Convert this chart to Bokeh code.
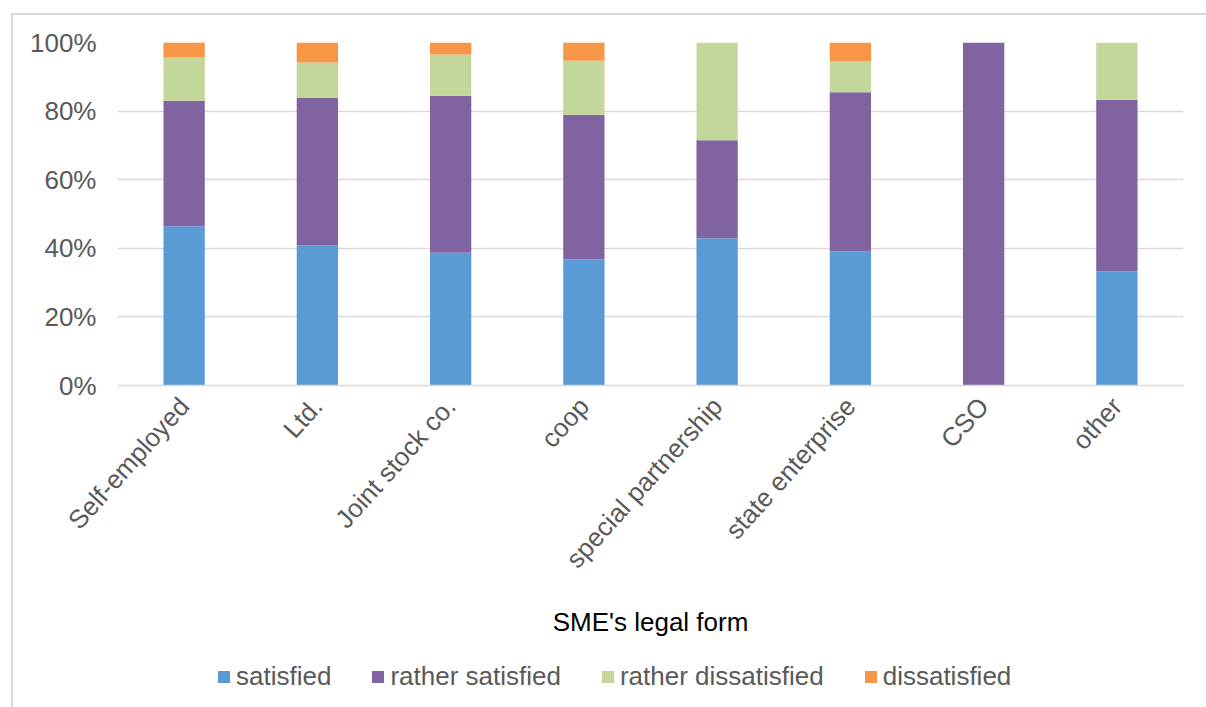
from bokeh.plotting import figure
from bokeh.layouts import column
from bokeh.models import (FactorRange, NumeralTickFormatter, Legend, LegendItem,
                          ColumnDataSource, FixedTicker, InlineStyleSheet)
from bokeh.embed import file_html
from bokeh.resources import INLINE

categories = ["Self-employed", "Ltd.", "Joint stock co.", "coop", "special partnership",
              "state enterprise", "CSO", "other"]
satisfied = [0.464, 0.408, 0.387, 0.368, 0.429, 0.391, 0.0, 0.333]
rather_satisfied = [0.366, 0.430, 0.458, 0.421, 0.286, 0.464, 1.0, 0.500]
rather_dissatisfied = [0.126, 0.104, 0.120, 0.158, 0.285, 0.091, 0.0, 0.167]
dissatisfied = [0.044, 0.058, 0.035, 0.053, 0.0, 0.054, 0.0, 0.0]
series_names = ["satisfied", "rather satisfied", "rather dissatisfied", "dissatisfied"]
colors = ["#5B9BD5", "#8064A2", "#C4D79B", "#F79646"]
y_ticks = [0, 0.2, 0.4, 0.6, 0.8, 1.0]

source = ColumnDataSource(dict(cat=categories, s1=satisfied, s2=rather_satisfied,
                               s3=rather_dissatisfied, s4=dissatisfied))

FONT = "Liberation Sans"
FS = "26px"

# ---- main chart ----
p = figure(x_range=FactorRange(*categories, range_padding=0), y_range=(0, 1),
           width=1206, height=650, output_backend="svg", toolbar_location=None,
           min_border_left=117, min_border_right=23, min_border_top=42, min_border_bottom=265)
p.outline_line_color = None

p.vbar_stack(["s1", "s2", "s3", "s4"], x="cat", width=0.31, color=colors,
             source=source, line_color=None)

p.yaxis.ticker = FixedTicker(ticks=y_ticks)
p.yaxis.formatter = NumeralTickFormatter(format="0%")
p.yaxis.axis_line_color = None
p.yaxis.major_tick_line_color = None
p.yaxis.minor_tick_line_color = None
p.yaxis.major_label_standoff = 15
p.yaxis.major_label_text_font = FONT
p.yaxis.major_label_text_font_size = FS
p.yaxis.major_label_text_color = "#595959"

p.xaxis.axis_line_color = "#D9D9D9"
p.xaxis.axis_line_width = 1.5
p.xaxis.major_tick_line_color = None
p.xaxis.minor_tick_line_color = None
p.xaxis.major_label_orientation = 0.838
p.xaxis.major_label_text_font = FONT
p.xaxis.major_label_text_font_size = FS
p.xaxis.major_label_text_color = "#595959"
p.xaxis.major_label_standoff = 10
p.xaxis.axis_label = "SME's legal form"
p.xaxis.axis_label_text_font = FONT
p.xaxis.axis_label_text_font_size = FS
p.xaxis.axis_label_text_font_style = "normal"
p.xaxis.axis_label_text_color = "#000000"
p.xaxis.axis_label_standoff = 20

p.xgrid.grid_line_color = None
p.ygrid.grid_line_color = "#D9D9D9"
p.ygrid.grid_line_width = 1.5

# ---- legend strip ----
pl = figure(x_range=FactorRange(*categories), y_range=(0, 1), width=1206, height=57,
            output_backend="svg", toolbar_location=None, x_axis_type=None, y_axis_type=None,
            min_border_left=0, min_border_right=0, min_border_top=0, min_border_bottom=0)
pl.outline_line_color = None
pl.xgrid.grid_line_color = None
pl.ygrid.grid_line_color = None
leg_renderers = pl.vbar_stack(["s1", "s2", "s3", "s4"], x="cat", width=0.31, color=colors,
                              source=source, line_color=None, visible=False)

legend = Legend(items=[LegendItem(label=n, renderers=[r]) for n, r in zip(series_names, leg_renderers)],
                orientation="horizontal", location=(99, 15))
legend.border_line_color = None
legend.background_fill_alpha = 0
legend.inactive_fill_alpha = 0
legend.label_text_font = FONT
legend.label_text_font_size = FS
legend.label_text_color = "#595959"
legend.glyph_width = 15
legend.glyph_height = 15
legend.label_standoff = 5
legend.spacing = 39
legend.padding = 2
legend.margin = 0
pl.add_layout(legend, "center")

layout = column(p, pl, spacing=0)
layout.stylesheets = [InlineStyleSheet(css=":host { position: relative; } :host::after { content: ''; position: absolute;"
                                           " left: 11px; top: 13px; right: 0px; bottom: 0px;"
                                           " border-left: 2px solid #d9d9d9; border-top: 2px solid #d9d9d9;"
                                           " pointer-events: none; }")]

open("out.html", "w").write(file_html(layout, INLINE))
